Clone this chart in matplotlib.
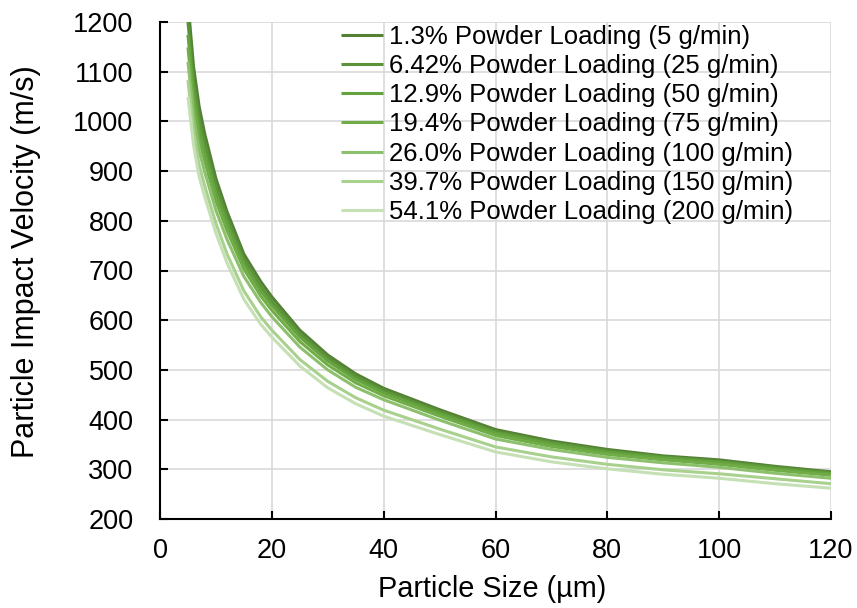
import matplotlib
matplotlib.use("Agg")
import matplotlib.pyplot as plt

# tamaño de particula (um)
size_um = [5, 6, 7, 8, 10, 12, 15, 18, 20, 25, 30, 35, 40, 50, 60, 70, 80, 90, 100, 110, 120]

# velocidad de impacto (m/s) para cada carga de polvo
v_1p3 = [1240, 1110, 1030, 975, 885, 818, 733, 678, 647, 580, 530, 492, 463, 420, 380, 357, 340, 327, 319, 306, 295]
v_6p42 = [1200, 1080, 1005, 956, 870, 806, 723, 668, 638, 573, 524, 487, 458, 416, 376, 354, 337, 325, 316, 304, 293]
v_12p9 = [1174, 1058, 984, 937, 855, 794, 714, 659, 630, 566, 518, 481, 454, 412, 373, 351, 334, 323, 314, 301, 291]
v_19p4 = [1149, 1036, 965, 920, 840, 780, 703, 649, 620, 557, 510, 474, 448, 407, 368, 346, 330, 319, 310, 298, 288]
v_26p0 = [1120, 1010, 941, 898, 821, 762, 688, 636, 607, 546, 500, 465, 440, 399, 361, 340, 324, 313, 304, 292, 282]
v_39p7 = [1083, 977, 912, 870, 795, 733, 659, 607, 580, 521, 477, 444, 419, 381, 345, 325, 310, 299, 291, 281, 271]
v_54p1 = [1049, 952, 889, 848, 775, 715, 642, 592, 566, 508, 464, 432, 407, 370, 335, 315, 301, 290, 282, 271, 262]

series = [v_1p3, v_6p42, v_12p9, v_19p4, v_26p0, v_39p7, v_54p1]
labels = ['1.3% Powder Loading (5 g/min)',
          '6.42% Powder Loading (25 g/min)',
          '12.9% Powder Loading (50 g/min)',
          '19.4% Powder Loading (75 g/min)',
          '26.0% Powder Loading (100 g/min)',
          '39.7% Powder Loading (150 g/min)',
          '54.1% Powder Loading (200 g/min)']
colores = ['#548235', '#5b9338', '#65a33f', '#70ad47', '#8dc06d', '#a9d18e', '#c5e0b4']

plt.rcParams['font.family'] = ['Liberation Sans', 'DejaVu Sans']

fig = plt.figure(figsize=(8.57, 6.08), dpi=100)
ax = fig.add_axes([160/857, 1 - 519/608, (831-160)/857, (519-22)/608])

for v, lab, c in zip(series, labels, colores):
    ax.plot(size_um, v, color=c, lw=2.2, label=lab, solid_capstyle='butt')

ax.set_xlim(0, 120)
ax.set_ylim(200, 1200)
ax.set_xticks(range(0, 121, 20))
ax.set_yticks(range(200, 1201, 100))
ax.grid(True, color='#d9d9d9', lw=1.2)
ax.set_axisbelow(True)
for lado in ['top', 'right']:
    ax.spines[lado].set_visible(False)
for lado in ['left', 'bottom']:
    ax.spines[lado].set_linewidth(1.5)
ax.tick_params(direction='in', length=6, width=1.5, labelsize=19.5)
ax.tick_params(axis='y', pad=19)
ax.tick_params(axis='x', pad=14)

ax.set_xlabel('Particle Size (µm)', fontsize=20.8)
ax.set_ylabel('Particle Impact Velocity (m/s)', fontsize=22)
ax.xaxis.set_label_coords(0.495, -0.112)
ax.yaxis.set_label_coords(-0.178, 0.517)

ax.legend(loc='upper left', bbox_to_anchor=(341/857, 1 - 25/608), bbox_transform=fig.transFigure,
          frameon=False, fontsize=18.5, handlelength=1.65, handletextpad=0.2,
          labelspacing=0.2, borderpad=0, borderaxespad=0)

fig.savefig('out.png', dpi=100)
